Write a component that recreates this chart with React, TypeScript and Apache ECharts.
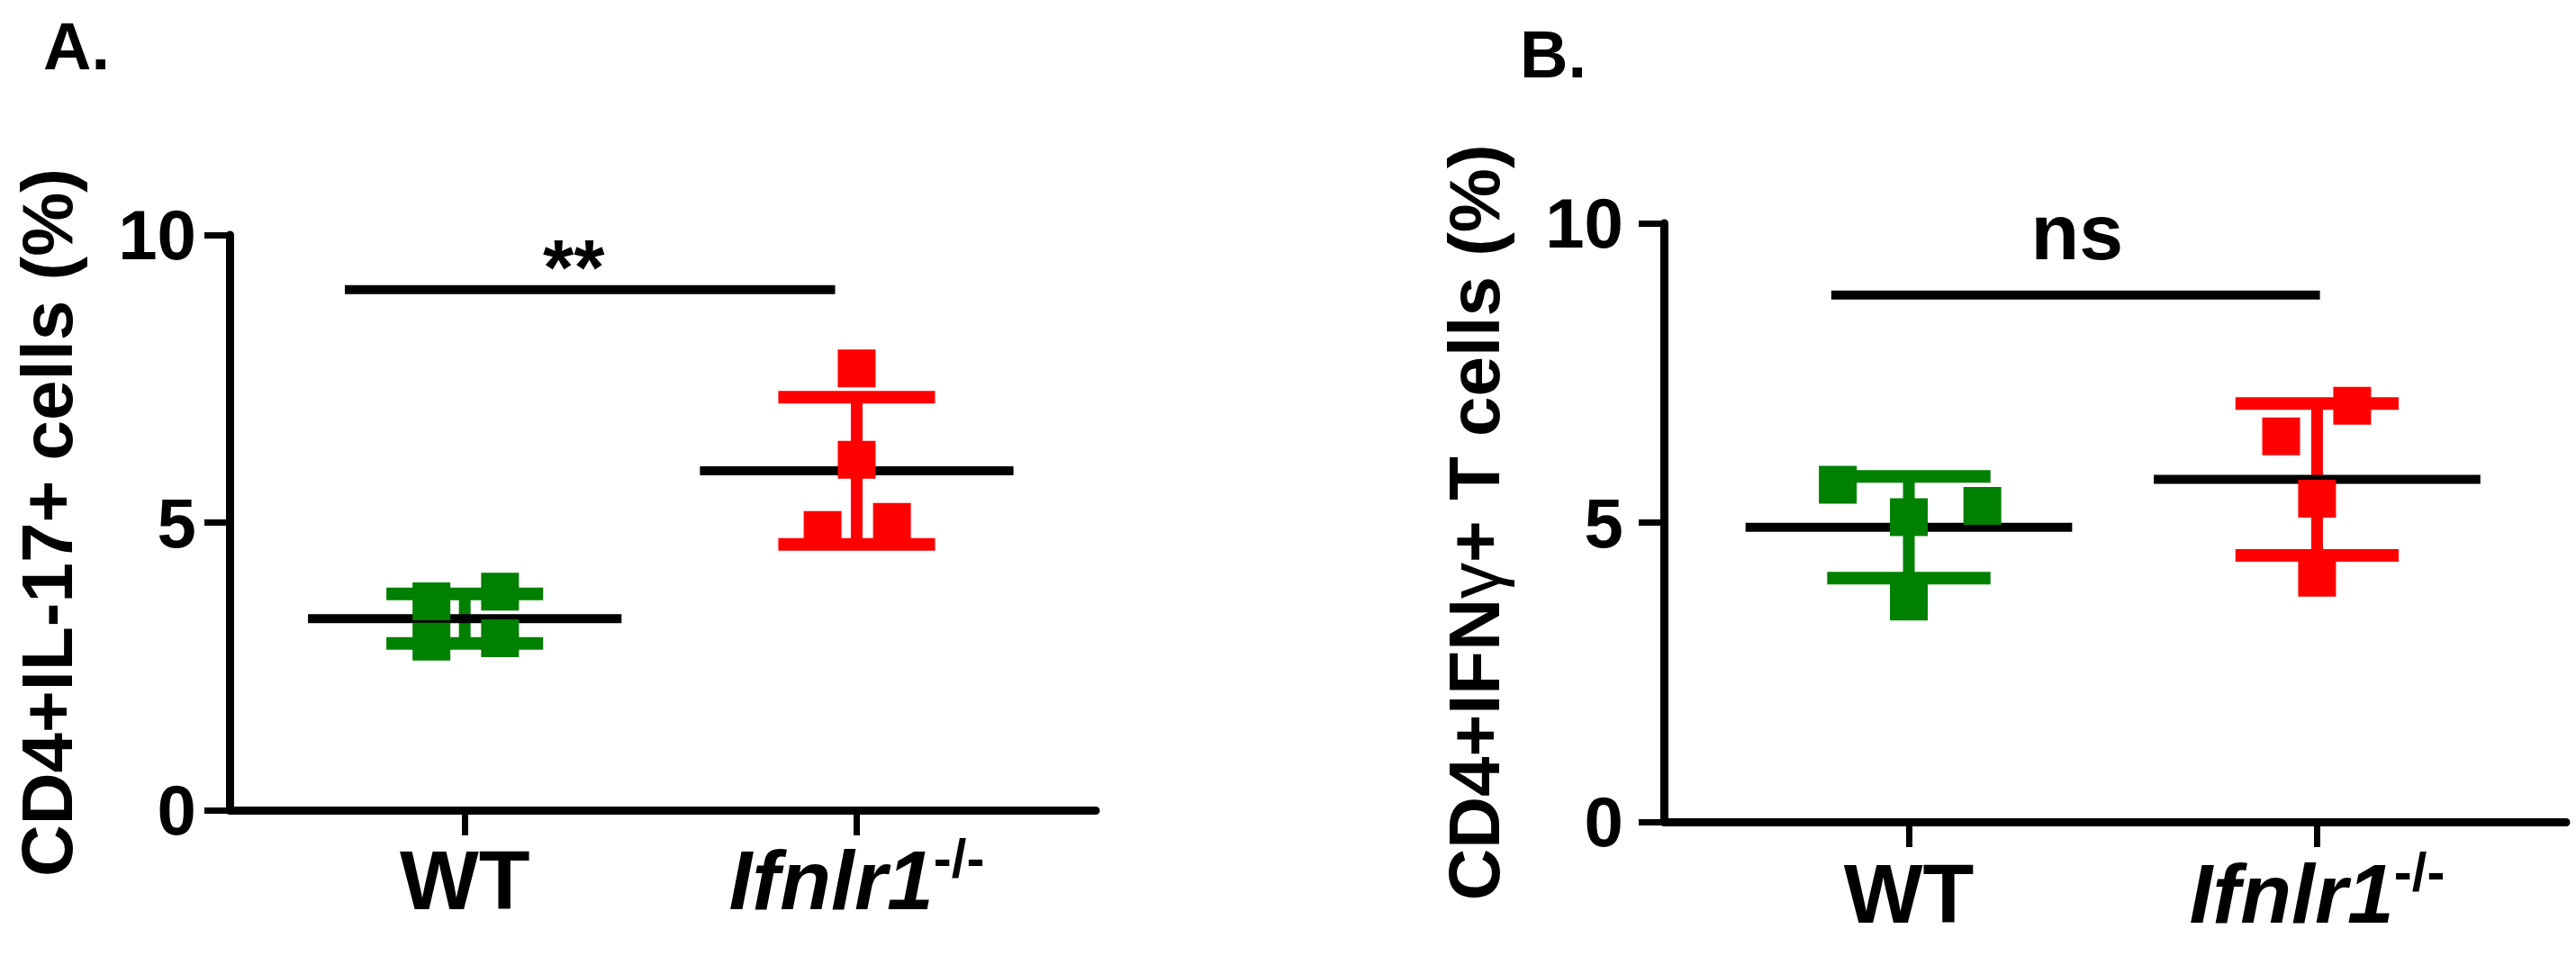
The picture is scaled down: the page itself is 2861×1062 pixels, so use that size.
import React, { useEffect, useRef } from 'react';
import * as echarts from 'echarts';

// ---------- data ----------
const CATEGORIES = ['WT', 'Ifnlr1'];
const CAT_X = [1, 2];
const Y_TICKS = [0, 5, 10];
const GROUP_COLORS = ['#008000', '#ff0000'];

// Panel A: CD4+IL-17+ cells (%)
const A_WT_X = [0.915, 0.915, 1.09, 1.09];
const A_WT_Y = [3.63, 2.93, 3.8, 2.99];
const A_KO_X = [2.0, 2.0, 1.913, 2.09];
const A_KO_Y = [7.68, 6.09, 4.87, 5.01];
const A_MEAN = [3.33, 5.9];
const A_SD = [0.43, 1.28];
const A_SIG_X = [0.694, 1.945];
const A_SIG_Y = 9.05;
const A_SIG_TEXT = '**';
const A_SIG_TEXT_POS = [1.278, 9.45];

// Panel B: CD4+IFNγ+ T cells (%)
const B_WT_X = [0.826, 1.0, 1.18, 1.0];
const B_WT_Y = [5.63, 5.09, 5.28, 3.68];
const B_KO_X = [2.086, 1.912, 2.0, 2.0];
const B_KO_Y = [6.95, 6.44, 5.4, 4.08];
const B_MEAN = [4.92, 5.72];
const B_SD = [0.85, 1.27];
const B_SIG_X = [0.81, 2.007];
const B_SIG_Y = 8.8;
const B_SIG_TEXT = 'ns';
const B_SIG_TEXT_POS = [1.412, 9.86];

const FONT = '"Liberation Sans", Arial, Helvetica, sans-serif';

function zip(xs: number[], ys: number[]) {
  return xs.map((x, i) => [x, ys[i]]);
}

function buildPanel(idx: number, p: any) {
  const xAxis = {
    type: 'value',
    gridIndex: idx,
    min: 0.4,
    max: 2.61,
    axisLine: { show: true, lineStyle: { color: '#000', width: 9 } },
    splitLine: { show: false },
    axisTick: { show: true, customValues: CAT_X, length: 28, lineStyle: { color: '#000', width: 7 } },
    axisLabel: {
      show: true,
      customValues: CAT_X,
      margin: p.xLabelMargin,
      color: '#000',
      formatter: (v: number) => (Math.round(v) === 1 ? '{w|' + CATEGORIES[0] + '}' : '{i|' + CATEGORIES[1] + '}{s|-/-}'),
      rich: {
        w: { fontSize: 93, fontWeight: 'bold', fontFamily: FONT, color: '#000', lineHeight: 93, padding: [17, 0, 0, 0] },
        i: { fontSize: 93, fontWeight: 'bold', fontStyle: 'italic', fontFamily: FONT, color: '#000', lineHeight: 93, padding: [17, 0, 0, 0] },
        s: { fontSize: 60, fontWeight: 'bold', fontFamily: FONT, color: '#000', lineHeight: 60, verticalAlign: 'top' },
      },
    },
  };
  const yAxis = {
    type: 'value',
    gridIndex: idx,
    min: Y_TICKS[0],
    max: Y_TICKS[Y_TICKS.length - 1],
    interval: 5,
    axisLine: { show: true, lineStyle: { color: '#000', width: 9 } },
    splitLine: { show: false },
    axisTick: { show: true, length: 28, lineStyle: { color: '#000', width: 7 } },
    axisLabel: { fontSize: 78, fontWeight: 'bold', fontFamily: FONT, color: '#000', margin: p.yLabelMargin },
    name: p.yName,
    nameLocation: 'middle',
    nameRotate: 90,
    nameGap: p.nameGap,
    nameTextStyle: {
      fontSize: 80,
      fontWeight: 'bold',
      fontFamily: FONT,
      color: '#000',
      rich: {
        g: { fontSize: 80, fontWeight: 'normal', fontFamily: FONT, color: '#000' },
      },
    },
  };

  const errorData = [0, 1].map((i) => [CAT_X[i], p.mean[i], p.sd[i]]);
  const meanData = [0, 1].map((i) => [CAT_X[i], p.mean[i]]);

  const series: any[] = [
    {
      type: 'custom',
      xAxisIndex: idx,
      yAxisIndex: idx,
      clip: false,
      encode: { x: 0, y: 1 },
      data: errorData,
      renderItem: (params: any, api: any) => {
        const x = api.value(0);
        const m = api.value(1);
        const s = api.value(2);
        const color = GROUP_COLORS[params.dataIndex];
        const top = api.coord([x, m + s]);
        const bot = api.coord([x, m - s]);
        const tl = api.coord([x - 0.2, m + s]);
        const tr = api.coord([x + 0.2, m + s]);
        const bl = api.coord([x - 0.2, m - s]);
        const br = api.coord([x + 0.2, m - s]);
        return {
          type: 'group',
          children: [
            { type: 'line', shape: { x1: top[0], y1: top[1], x2: bot[0], y2: bot[1] }, style: { stroke: color, lineWidth: 13 } },
            { type: 'line', shape: { x1: tl[0], y1: tl[1], x2: tr[0], y2: tr[1] }, style: { stroke: color, lineWidth: 14 } },
            { type: 'line', shape: { x1: bl[0], y1: bl[1], x2: br[0], y2: br[1] }, style: { stroke: color, lineWidth: 14 } },
          ],
        };
      },
    },
    {
      type: 'custom',
      xAxisIndex: idx,
      yAxisIndex: idx,
      clip: false,
      encode: { x: 0, y: 1 },
      data: meanData,
      renderItem: (params: any, api: any) => {
        const x = api.value(0);
        const m = api.value(1);
        const l = api.coord([x - 0.4, m]);
        const r = api.coord([x + 0.4, m]);
        return { type: 'line', shape: { x1: l[0], y1: l[1], x2: r[0], y2: r[1] }, style: { stroke: '#000', lineWidth: 10 } };
      },
    },
    {
      type: 'scatter',
      xAxisIndex: idx,
      yAxisIndex: idx,
      symbol: 'rect',
      symbolSize: 42,
      itemStyle: { color: GROUP_COLORS[0], opacity: 1 },
      data: zip(p.wtX, p.wtY),
    },
    {
      type: 'scatter',
      xAxisIndex: idx,
      yAxisIndex: idx,
      symbol: 'rect',
      symbolSize: 42,
      itemStyle: { color: GROUP_COLORS[1], opacity: 1 },
      data: zip(p.koX, p.koY),
    },
    {
      type: 'line',
      xAxisIndex: idx,
      yAxisIndex: idx,
      symbol: 'none',
      lineStyle: { color: '#000', width: 10, cap: 'butt' },
      data: [
        [p.sigX[0], p.sigY],
        [p.sigX[1], p.sigY],
      ],
    },
    {
      type: 'scatter',
      xAxisIndex: idx,
      yAxisIndex: idx,
      symbolSize: 1,
      itemStyle: { color: 'rgba(0,0,0,0)', opacity: 1 },
      label: {
        show: true,
        position: 'inside',
        formatter: p.sigText,
        fontSize: 88,
        fontWeight: 'bold',
        fontFamily: FONT,
        color: '#000',
        opacity: 1,
      },
      data: [p.sigTextPos],
    },
  ];
  return { xAxis, yAxis, series };
}

export default function App() {
  const ref = useRef<HTMLDivElement>(null);
  useEffect(() => {
    if (!ref.current) return;
    const chart = echarts.init(ref.current, undefined, { renderer: 'svg' });
    const pa = buildPanel(0, {
      yName: 'CD4+IL-17+ cells (%)',
      nameGap: 163,
      yLabelMargin: 37,
      xLabelMargin: 23,
      wtX: A_WT_X, wtY: A_WT_Y, koX: A_KO_X, koY: A_KO_Y,
      mean: A_MEAN, sd: A_SD,
      sigX: A_SIG_X, sigY: A_SIG_Y, sigText: A_SIG_TEXT, sigTextPos: A_SIG_TEXT_POS,
    });
    const pb = buildPanel(1, {
      yName: 'CD4+IFN{g|γ}+ T cells (%)',
      nameGap: 171,
      yLabelMargin: 45,
      xLabelMargin: 25,
      wtX: B_WT_X, wtY: B_WT_Y, koX: B_KO_X, koY: B_KO_Y,
      mean: B_MEAN, sd: B_SD,
      sigX: B_SIG_X, sigY: B_SIG_Y, sigText: B_SIG_TEXT, sigTextPos: B_SIG_TEXT_POS,
    });
    chart.setOption({
      animation: false,
      backgroundColor: '#ffffff',
      grid: [
        { left: 255, top: 261, width: 962, height: 639 },
        { left: 1848, top: 248, width: 1002, height: 665 },
      ],
      xAxis: [pa.xAxis, pb.xAxis],
      yAxis: [pa.yAxis, pb.yAxis],
      series: [...pa.series, ...pb.series],
      graphic: [
        { type: 'text', x: 48, y: 51, style: { text: 'A.', font: 'bold 74px ' + FONT, fill: '#000', textAlign: 'left', textVerticalAlign: 'middle' } },
        { type: 'text', x: 1688, y: 60, style: { text: 'B.', font: 'bold 74px ' + FONT, fill: '#000', textAlign: 'left', textVerticalAlign: 'middle' } },
      ],
    });
    return () => chart.dispose();
  }, []);
  return <div ref={ref} style={{ position: 'absolute', left: 0, top: 0, width: 2861, height: 1062 }} />;
}
